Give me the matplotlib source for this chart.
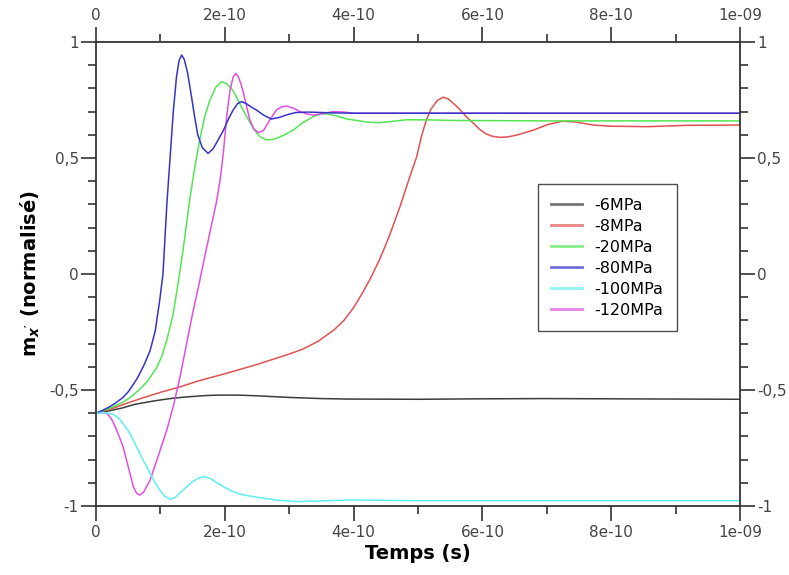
import numpy as np
import matplotlib
matplotlib.use("Agg")
import matplotlib.pyplot as plt
from matplotlib.ticker import FuncFormatter

plt.rcParams["mathtext.fontset"] = "custom"
plt.rcParams["mathtext.it"] = "DejaVu Sans:italic:bold"
plt.rcParams["mathtext.rm"] = "DejaVu Sans:bold"

# times are read in units of 1e-10 s
t_6 = [0, 0.2, 0.4, 0.6, 0.8, 0.95, 1.2, 1.45, 1.7, 1.9, 2.2, 2.5, 3.0, 3.5, 3.9, 5, 6, 7, 8, 9, 10]
m_6 = [-0.6, -0.59, -0.578, -0.562, -0.552, -0.545, -0.535, -0.529, -0.524, -0.522, -0.522, -0.525, -0.532,
       -0.537, -0.539, -0.54, -0.538, -0.537, -0.538, -0.539, -0.54]

t_8 = [0, 0.25, 0.5, 0.75, 1.0, 1.3, 1.6, 2.0, 2.5, 3.0, 3.2, 3.45, 3.7, 3.85, 4.0, 4.12, 4.25, 4.4, 4.55,
       4.72, 4.85, 4.98, 5.06, 5.13, 5.2, 5.3, 5.39, 5.47, 5.55, 5.63, 5.7, 5.78, 5.86, 5.95, 6.05, 6.15,
       6.27, 6.4, 6.55, 6.79, 7.0, 7.25, 7.45, 7.6, 7.72, 8.0, 8.55, 9.2, 10]
m_8 = [-0.6, -0.58, -0.555, -0.532, -0.51, -0.487, -0.46, -0.43, -0.39, -0.345, -0.325, -0.29, -0.24, -0.2,
       -0.145, -0.09, -0.025, 0.06, 0.16, 0.29, 0.4, 0.506, 0.6, 0.664, 0.71, 0.748, 0.762, 0.755, 0.735,
       0.715, 0.693, 0.67, 0.65, 0.625, 0.605, 0.594, 0.589, 0.591, 0.6, 0.62, 0.643, 0.659, 0.655, 0.648,
       0.642, 0.637, 0.635, 0.641, 0.642]

t_20 = [0, 0.2, 0.42, 0.55, 0.68, 0.8, 0.94, 1.02, 1.1, 1.2, 1.28, 1.35, 1.46, 1.54, 1.61, 1.69, 1.77, 1.86,
        1.95, 2.04, 2.13, 2.24, 2.34, 2.45, 2.55, 2.65, 2.75, 2.85, 2.95, 3.06, 3.2, 3.37, 3.5, 3.6, 3.75,
        3.9, 4.0, 4.2, 4.4, 4.6, 4.83, 5.2, 5.5, 7, 10]
m_20 = [-0.6, -0.58, -0.553, -0.528, -0.497, -0.462, -0.405, -0.355, -0.285, -0.17, -0.03, 0.1, 0.33, 0.47,
        0.578, 0.68, 0.75, 0.805, 0.829, 0.818, 0.79, 0.73, 0.678, 0.625, 0.59, 0.578, 0.58, 0.59, 0.603,
        0.62, 0.65, 0.678, 0.69, 0.69, 0.68, 0.668, 0.664, 0.655, 0.652, 0.658, 0.665, 0.664, 0.662, 0.66, 0.66]

t_80 = [0, 0.1, 0.2, 0.3, 0.42, 0.5, 0.57, 0.65, 0.75, 0.84, 0.92, 0.99, 1.04, 1.07, 1.1, 1.15, 1.2, 1.25,
        1.29, 1.33, 1.37, 1.42, 1.48, 1.53, 1.58, 1.65, 1.74, 1.82, 1.9, 1.98, 2.06, 2.13, 2.2, 2.26, 2.33,
        2.41, 2.49, 2.6, 2.72, 2.85, 2.95, 3.1, 3.3, 3.6, 4, 10]
m_80 = [-0.6, -0.588, -0.574, -0.557, -0.532, -0.508, -0.48, -0.445, -0.39, -0.33, -0.245, -0.112, 0.0, 0.15,
        0.3, 0.5, 0.7, 0.85, 0.92, 0.944, 0.925, 0.87, 0.77, 0.68, 0.6, 0.545, 0.52, 0.54, 0.58, 0.62, 0.67,
        0.707, 0.735, 0.743, 0.735, 0.72, 0.707, 0.685, 0.668, 0.675, 0.685, 0.696, 0.698, 0.695, 0.693, 0.693]

t_100 = [0, 0.15, 0.27, 0.35, 0.42, 0.5, 0.58, 0.7, 0.84, 0.92, 0.99, 1.07, 1.15, 1.22, 1.3, 1.41, 1.5, 1.6,
         1.69, 1.78, 1.88, 1.98, 2.1, 2.25, 2.49, 2.8, 3.12, 3.5, 3.94, 4.5, 5, 7, 10]
m_100 = [-0.6, -0.598, -0.605, -0.62, -0.645, -0.675, -0.716, -0.785, -0.859, -0.9, -0.931, -0.958, -0.971,
         -0.965, -0.945, -0.917, -0.895, -0.878, -0.874, -0.882, -0.9, -0.917, -0.935, -0.95, -0.962, -0.974,
         -0.981, -0.978, -0.974, -0.976, -0.977, -0.977, -0.977]

t_120 = [0, 0.1, 0.17, 0.24, 0.3, 0.36, 0.42, 0.5, 0.58, 0.63, 0.68, 0.74, 0.84, 0.96, 1.1, 1.2, 1.3, 1.4,
         1.5, 1.61, 1.7, 1.8, 1.87, 1.93, 1.98, 2.03, 2.08, 2.13, 2.17, 2.21, 2.25, 2.29, 2.34, 2.39, 2.45,
         2.52, 2.6, 2.7, 2.8, 2.88, 2.96, 3.06, 3.17, 3.27, 3.37, 3.5, 3.68, 3.85, 4.0, 10]
m_120 = [-0.6, -0.598, -0.6, -0.625, -0.66, -0.7, -0.744, -0.83, -0.917, -0.945, -0.953, -0.94, -0.888, -0.79,
         -0.672, -0.57, -0.45, -0.31, -0.17, -0.03, 0.09, 0.22, 0.31, 0.41, 0.53, 0.68, 0.79, 0.85, 0.865,
         0.85, 0.82, 0.78, 0.72, 0.664, 0.625, 0.61, 0.618, 0.664, 0.707, 0.72, 0.724, 0.715, 0.7, 0.69,
         0.685, 0.69, 0.7, 0.698, 0.693, 0.693]

labels = ["-6MPa", "-8MPa", "-20MPa", "-80MPa", "-100MPa", "-120MPa"]
colors = ["#3c3c3c", "#e05252", "#52e652", "#3434c8", "#5ef0f0", "#e050e0"]
series = [(t_6, m_6), (t_8, m_8), (t_20, m_20), (t_80, m_80), (t_100, m_100), (t_120, m_120)]

x_major = [0, 2e-10, 4e-10, 6e-10, 8e-10, 1e-9]
x_minor = [1e-10, 3e-10, 5e-10, 7e-10, 9e-10]
y_major = [-1, -0.5, 0, 0.5, 1]
y_minor = [-0.9, -0.8, -0.7, -0.6, -0.4, -0.3, -0.2, -0.1, 0.1, 0.2, 0.3, 0.4, 0.6, 0.7, 0.8, 0.9]

fig = plt.figure(figsize=(7.89, 5.75), dpi=100)
ax = fig.add_axes([96 / 789, 69 / 575, 644 / 789, 464 / 575])

# magenta drawn before blue so blue sits on top
order = [0, 1, 2, 5, 3, 4]
lines = {}
for i in order:
    t, m = series[i]
    ln, = ax.plot(np.array(t) * 1e-10, m, color=colors[i], lw=1.1, label=labels[i])
    lines[i] = ln

ax.set_xlim(0, 1e-9)
ax.set_ylim(-1, 1)

ax.set_xticks(x_major)
ax.set_xticks(x_minor, minor=True)
ax.set_yticks(y_major)
ax.set_yticks(y_minor, minor=True)

ax.xaxis.set_major_formatter(FuncFormatter(lambda v, p: "0" if abs(v) < 1e-15 else f"{v:.0e}"))
ax.yaxis.set_major_formatter(FuncFormatter(lambda v, p: f"{v:g}".replace(".", ",")))

ax.tick_params(which="both", direction="out", top=True, right=True,
               labeltop=True, labelright=True, colors="#333333", labelcolor="#444444",
               labelsize=11, width=1.2, pad=2.5)
ax.tick_params(axis="y", which="both", pad=1.5)
ax.tick_params(which="major", length=11)
ax.tick_params(which="minor", length=6)
for s in ax.spines.values():
    s.set_color("#333333")
    s.set_linewidth(1.3)

ax.set_xlabel("Temps (s)", fontsize=14, fontweight="bold", labelpad=3)
ax.set_ylabel(r"m$_{\mathit{x'}}$ (normalisé)", fontsize=14, fontweight="bold", labelpad=5)

handles = [lines[i] for i in range(6)]
leg = ax.legend(handles, labels, loc="upper left", bbox_to_anchor=(0.686, 0.694), borderaxespad=0,
                fancybox=False, frameon=True, fontsize=11.5, handlelength=1.9, handletextpad=0.8,
                labelspacing=0.38, borderpad=0.85)
leg.get_frame().set_edgecolor("#222222")
leg.get_frame().set_linewidth(1.0)
for h in leg.get_lines():
    h.set_linewidth(2.0)
    h.set_alpha(0.7)

fig.savefig("out.png", dpi=100)
